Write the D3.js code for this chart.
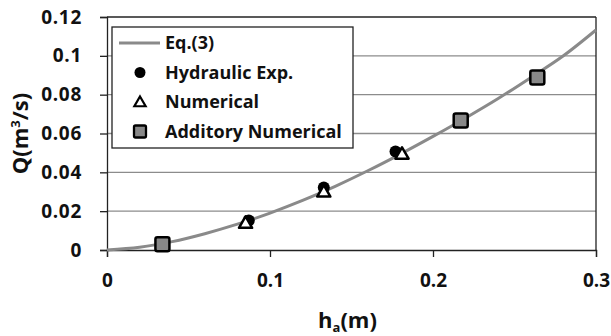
<!DOCTYPE html>
<html>
<head>
<meta charset="utf-8">
<script src="https://cdn.jsdelivr.net/npm/d3@7"></script>
<style>
  body { margin: 0; background: #fff; }
  text { font-family: "Open Sans", sans-serif; font-weight: bold; fill: #111; }
</style>
</head>
<body>
<div id="chart"></div>
<script>
// Eq.(3) curve
const eqH = [0, 0.02, 0.04, 0.06, 0.08, 0.1, 0.12, 0.14, 0.16, 0.18, 0.2, 0.22, 0.24, 0.26, 0.28, 0.3];
const eqQ = [0, 0.0014, 0.0043, 0.0084, 0.0133, 0.019, 0.0255, 0.0328, 0.0408, 0.0494, 0.0585, 0.068, 0.078, 0.0888, 0.1, 0.1133];

const expH = [0.087, 0.133, 0.177];
const expQ = [0.0152, 0.0322, 0.0507];

const numH = [0.085, 0.133, 0.181];
const numQ = [0.0139, 0.0300, 0.0495];

const addH = [0.034, 0.217, 0.264];
const addQ = [0.0029, 0.0667, 0.0888];

const xTicks = [0, 0.1, 0.2, 0.3];
const yTicks = [0, 0.02, 0.04, 0.06, 0.08, 0.1, 0.12];
const legendNames = ["Eq.(3)", "Hydraulic Exp.", "Numerical", "Additory Numerical"];

const W = 611, H = 336;
const margin = { left: 107, top: 17, right: 15, bottom: 86 };
const width = W - margin.left - margin.right;
const height = H - margin.top - margin.bottom;

const svg = d3.select('#chart').append('svg')
  .attr('width', W).attr('height', H);
const g = svg.append('g')
  .attr('transform', `translate(${margin.left},${margin.top})`);

const x = d3.scaleLinear().domain([0, 0.3]).range([0, width]);
const y = d3.scaleLinear().domain([0, 0.12]).range([height, 0]);

// gridlines
g.selectAll('.grid')
  .data(yTicks.filter(d => d > 0 && d < 0.12))
  .enter().append('line')
  .attr('x1', 0).attr('x2', width)
  .attr('y1', d => y(d)).attr('y2', d => y(d))
  .attr('stroke', '#8c8c8c').attr('stroke-width', 1.3);

// frame top / right
g.append('line').attr('x1', 0).attr('x2', width).attr('y1', 0).attr('y2', 0)
  .attr('stroke', '#222').attr('stroke-width', 1.3);
g.append('line').attr('x1', width).attr('x2', width).attr('y1', 0).attr('y2', height)
  .attr('stroke', '#222').attr('stroke-width', 1.3);

// axes
const xAxis = d3.axisBottom(x).tickValues(xTicks).tickSize(7).tickPadding(17)
  .tickFormat(d => d === 0 ? '0' : d3.format('.1f')(d));
const gx = g.append('g').attr('transform', `translate(0,${height})`).call(xAxis);

const yAxis = d3.axisLeft(y).tickValues(yTicks).tickSize(7).tickPadding(18)
  .tickFormat(d => d === 0 ? '0' : String(+d.toFixed(2)));
const gy = g.append('g').call(yAxis);

[gx, gy].forEach(a => {
  a.select('.domain').attr('stroke', '#222').attr('stroke-width', 1.3);
  a.selectAll('.tick line').attr('stroke', '#222').attr('stroke-width', 1.3);
  a.selectAll('.tick text').style('font-size', '19px').style('font-family', '"Open Sans", sans-serif')
    .style('font-weight', 'bold').attr('fill', '#111');
});
gy.selectAll('.tick text').style('letter-spacing', '0.7px');

// curve
const eqData = eqH.map((h, i) => [h, eqQ[i]]);
g.append('path')
  .datum(eqData)
  .attr('fill', 'none')
  .attr('stroke', '#8a8a8a')
  .attr('stroke-width', 3)
  .attr('d', d3.line().x(d => x(d[0])).y(d => y(d[1])).curve(d3.curveMonotoneX));

// markers
const tri = d3.symbol().type(d3.symbolTriangle).size(75);

g.selectAll('.exp')
  .data(expH.map((h, i) => [h, expQ[i]]))
  .enter().append('circle')
  .attr('cx', d => x(d[0])).attr('cy', d => y(d[1])).attr('r', 6)
  .attr('fill', '#000');

g.selectAll('.num')
  .data(numH.map((h, i) => [h, numQ[i]]))
  .enter().append('path')
  .attr('d', tri)
  .attr('transform', d => `translate(${x(d[0])},${y(d[1]) + 1})`)
  .attr('fill', '#fff').attr('stroke', '#000').attr('stroke-width', 2.5)
  .attr('stroke-linejoin', 'round');

g.selectAll('.add')
  .data(addH.map((h, i) => [h, addQ[i]]))
  .enter().append('rect')
  .attr('x', d => x(d[0]) - 7).attr('y', d => y(d[1]) - 7)
  .attr('width', 14).attr('height', 14).attr('rx', 2)
  .attr('fill', '#888').attr('stroke', '#000').attr('stroke-width', 2.5);

// axis titles
const xt = svg.append('text')
  .attr('x', margin.left + width / 2 - 4).attr('y', 328)
  .attr('text-anchor', 'middle').style('font-size', '22px');
xt.append('tspan').text('h');
xt.append('tspan').attr('dy', 4).style('font-size', '13px').text('a');
xt.append('tspan').attr('dy', -4).text('(m)');

const yt = svg.append('text')
  .attr('transform', `translate(28,${margin.top + height / 2}) rotate(-90)`)
  .attr('text-anchor', 'middle').style('font-size', '22px');
yt.append('tspan').text('Q(m');
yt.append('tspan').attr('dy', -8).style('font-size', '13px').text('3');
yt.append('tspan').attr('dy', 8).text('/s)');

// legend
const lg = svg.append('g').attr('transform', 'translate(112,27)');
lg.append('rect').attr('width', 241).attr('height', 121)
  .attr('fill', '#fff').attr('stroke', '#222').attr('stroke-width', 1.3);
const rowY = i => 16 + i * 29.5;
lg.append('line').attr('x1', 7).attr('x2', 48).attr('y1', rowY(0)).attr('y2', rowY(0))
  .attr('stroke', '#8a8a8a').attr('stroke-width', 3);
lg.append('circle').attr('cx', 28).attr('cy', rowY(1)).attr('r', 5.5).attr('fill', '#000');
lg.append('path').attr('d', d3.symbol().type(d3.symbolTriangle).size(55))
  .attr('transform', `translate(28,${rowY(2) + 1})`)
  .attr('fill', '#fff').attr('stroke', '#000').attr('stroke-width', 2.2);
lg.append('rect').attr('x', 22).attr('y', rowY(3) - 6).attr('width', 12).attr('height', 12).attr('rx', 1.5)
  .attr('fill', '#888').attr('stroke', '#000').attr('stroke-width', 2.3);
lg.selectAll('.lt')
  .data(legendNames)
  .enter().append('text')
  .attr('x', 53).attr('y', (d, i) => rowY(i))
  .attr('dy', '0.35em')
  .style('font-size', '18px')
  .text(d => d);
</script>
</body>
</html>
